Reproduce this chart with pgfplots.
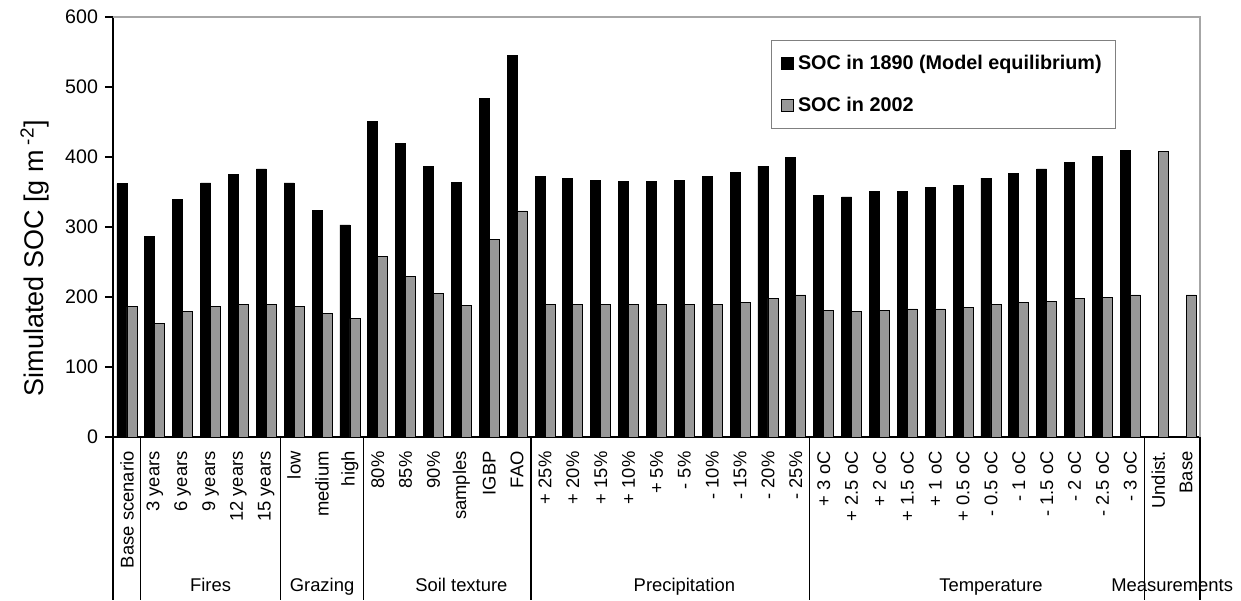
\documentclass[border=0pt]{standalone}
\usepackage{pgfplots}
\pgfplotsset{compat=1.18}
\usepackage{fontspec}
\setmainfont{Liberation Sans}
\definecolor{bargray}{RGB}{152,152,152}
\pgfplotsset{sqlegend/.style={legend image code/.code={\draw[##1] (0pt,-3pt) rectangle (6pt,3pt);}}}
\begin{document}
\begin{tikzpicture}
\useasboundingbox (-56.5pt,-81.5pt) rectangle (564pt,218.5pt);
\begin{axis}[
  at={(0,0)}, anchor=south west,
  scale only axis, width=543.5pt, height=210pt,
  xmin=-0.5, xmax=38.5, ymin=0, ymax=600,
  clip=false,
  ybar=0pt, bar width=5pt,
  axis x line*=bottom, axis y line*=left,
  axis line style={line width=0.9pt},
  ytick={0,100,...,600},
  tick align=outside, major tick length=4pt,
  ytick style={line width=0.8pt, black},
  xtick={0,...,38},
  xtick style={draw=none},
  /pgf/number format/assume math mode=true,
  yticklabel style={font=\fontsize{9.8}{11}\selectfont},
  xticklabel style={rotate=90, anchor=east, font=\fontsize{9.2}{11}\selectfont, inner xsep=3pt, inner ysep=0pt},
  xticklabels={Base scenario, 3 years, 6 years, 9 years, 12 years, 15 years,
    low, medium, high, 80\%, 85\%, 90\%, samples, IGBP, FAO,
    + 25\%, + 20\%, + 15\%, + 10\%, + 5\%, - 5\%, - 10\%, - 15\%, - 20\%, - 25\%,
    + 3 oC, + 2.5 oC, + 2 oC, + 1.5 oC, + 1 oC, + 0.5 oC, - 0.5 oC, - 1 oC, - 1.5 oC, - 2 oC, - 2.5 oC, - 3 oC,
    Undist., Base},
  ylabel={Simulated SOC [g m\textsuperscript{ -2}]},
  ylabel style={at={(axis description cs:-0.0718,0.426)}, anchor=center, font=\fontsize{13.5}{16}\selectfont},
  legend style={at={(0.605,0.945)}, anchor=north west, draw=gray, line width=0.6pt,
    font=\fontsize{9.9}{11}\selectfont\bfseries, row sep=8.5pt, inner xsep=5pt, inner ysep=5pt,
    nodes={inner xsep=2pt}},
  legend cell align=left,
]
\addplot[fill=black, draw=black, line width=0.4pt, sqlegend]
  coordinates {
  (0,362) (1,286) (2,339) (3,363) (4,375) (5,383)
  (6,363) (7,324) (8,303)
  (9,451) (10,419) (11,387) (12,364) (13,484) (14,545)
  (15,372) (16,370) (17,366) (18,365) (19,365) (20,366) (21,372) (22,378) (23,387) (24,399)
  (25,345) (26,343) (27,351) (28,351) (29,356) (30,360) (31,370) (32,376) (33,383) (34,392) (35,401) (36,410)
  };
\addplot[fill=bargray, draw=black, line width=0.4pt, sqlegend]
  coordinates {
  (0,186) (1,162) (2,179) (3,187) (4,189) (5,190)
  (6,187) (7,177) (8,169)
  (9,258) (10,230) (11,205) (12,188) (13,282) (14,323)
  (15,189) (16,189) (17,189) (18,189) (19,189) (20,189) (21,190) (22,192) (23,198) (24,203)
  (25,181) (26,180) (27,181) (28,183) (29,183) (30,185) (31,190) (32,192) (33,194) (34,198) (35,200) (36,203)
  (37,408) (38,203)
  };
\legend{SOC in 1890 (Model equilibrium), SOC in 2002}
\draw[gray!70, line width=0.6pt] (rel axis cs:0,1) -- (rel axis cs:1,1) -- (rel axis cs:1,0);
\draw[line width=0.6pt] (axis cs:-0.5,0) -- ++(0pt,-81.5pt);
\draw[line width=0.6pt] (axis cs:0.5,0) -- ++(0pt,-81.5pt);
\draw[line width=0.6pt] (axis cs:5.5,0) -- ++(0pt,-81.5pt);
\draw[line width=0.6pt] (axis cs:8.5,0) -- ++(0pt,-81.5pt);
\draw[line width=0.6pt] (axis cs:14.5,0) -- ++(0pt,-81.5pt);
\draw[line width=0.6pt] (axis cs:24.5,0) -- ++(0pt,-81.5pt);
\draw[line width=0.6pt] (axis cs:36.5,0) -- ++(0pt,-81.5pt);
\draw[line width=0.6pt] (axis cs:38.5,0) -- ++(0pt,-81.5pt);
\path (axis cs:3,0) ++(0pt,-77pt) node[anchor=base, font=\fontsize{9.2}{11}\selectfont] {Fires};
\path (axis cs:7,0) ++(0pt,-77pt) node[anchor=base, font=\fontsize{9.2}{11}\selectfont] {Grazing};
\path (axis cs:12,0) ++(0pt,-77pt) node[anchor=base, font=\fontsize{9.2}{11}\selectfont] {Soil texture};
\path (axis cs:20,0) ++(0pt,-77pt) node[anchor=base, font=\fontsize{9.2}{11}\selectfont] {Precipitation};
\path (axis cs:31,0) ++(0pt,-77pt) node[anchor=base, font=\fontsize{9.2}{11}\selectfont] {Temperature};
\path (axis cs:37.5,0) ++(0pt,-77pt) node[anchor=base, font=\fontsize{9.2}{11}\selectfont] {Measurements};
\end{axis}
\end{tikzpicture}
\end{document}
